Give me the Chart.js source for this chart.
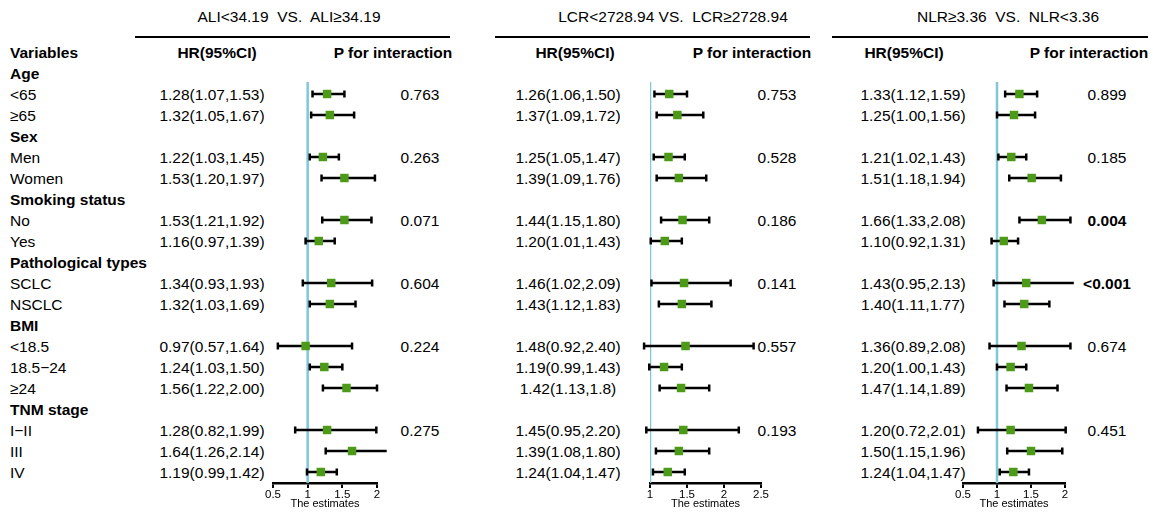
<!DOCTYPE html>
<html>
<head>
<meta charset="utf-8">
<script src="https://cdn.jsdelivr.net/npm/chart.js@4.4.1/dist/chart.umd.min.js"></script>
<style>
  body { margin: 0; background: #fff; width: 1153px; height: 513px; overflow: hidden; position: relative;
         font-family: "Liberation Sans", Arial, sans-serif; color: #000; }
  .t { position: absolute; font-size: 15.5px; white-space: pre; line-height: 1; }
  .b { font-weight: bold; }
  .rule { position: absolute; height: 2px; background: #000; }
  canvas { position: absolute; top: 0; }
</style>
</head>
<body>
<script>
// rows of the table
const variables = ['Age', '<65', '≥65', 'Sex', 'Men', 'Women', 'Smoking status', 'No', 'Yes',
  'Pathological types', 'SCLC', 'NSCLC', 'BMI', '<18.5', '18.5−24', '≥24', 'TNM stage', 'I−II', 'III', 'IV'];
const isGroup = [1, 0, 0, 1, 0, 0, 1, 0, 0, 1, 0, 0, 1, 0, 0, 0, 1, 0, 0, 0];

// ALI<34.19 vs ALI≥34.19
const aliHr = [1.28, 1.32, 1.22, 1.53, 1.53, 1.16, 1.34, 1.32, 0.97, 1.24, 1.56, 1.28, 1.64, 1.19];
const aliLo = [1.07, 1.05, 1.03, 1.20, 1.21, 0.97, 0.93, 1.03, 0.57, 1.03, 1.22, 0.82, 1.26, 0.99];
const aliHi = [1.53, 1.67, 1.45, 1.97, 1.92, 1.39, 1.93, 1.69, 1.64, 1.50, 2.00, 1.99, 2.14, 1.42];
const aliText = ['1.28(1.07,1.53)', '1.32(1.05,1.67)', '1.22(1.03,1.45)', '1.53(1.20,1.97)', '1.53(1.21,1.92)',
  '1.16(0.97,1.39)', '1.34(0.93,1.93)', '1.32(1.03,1.69)', '0.97(0.57,1.64)', '1.24(1.03,1.50)',
  '1.56(1.22,2.00)', '1.28(0.82,1.99)', '1.64(1.26,2.14)', '1.19(0.99,1.42)'];
const aliP = ['0.763', '0.263', '0.071', '0.604', '0.224', '0.275'];
const aliTicks = [0.5, 1, 1.5, 2];

// LCR<2728.94 vs LCR≥2728.94
const lcrHr = [1.26, 1.37, 1.25, 1.39, 1.44, 1.20, 1.46, 1.43, 1.48, 1.19, 1.42, 1.45, 1.39, 1.24];
const lcrLo = [1.06, 1.09, 1.05, 1.09, 1.15, 1.01, 1.02, 1.12, 0.92, 0.99, 1.13, 0.95, 1.08, 1.04];
const lcrHi = [1.50, 1.72, 1.47, 1.76, 1.80, 1.43, 2.09, 1.83, 2.40, 1.43, 1.80, 2.20, 1.80, 1.47];
const lcrText = ['1.26(1.06,1.50)', '1.37(1.09,1.72)', '1.25(1.05,1.47)', '1.39(1.09,1.76)', '1.44(1.15,1.80)',
  '1.20(1.01,1.43)', '1.46(1.02,2.09)', '1.43(1.12,1.83)', '1.48(0.92,2.40)', '1.19(0.99,1.43)',
  '1.42(1.13,1.8)', '1.45(0.95,2.20)', '1.39(1.08,1.80)', '1.24(1.04,1.47)'];
const lcrP = ['0.753', '0.528', '0.186', '0.141', '0.557', '0.193'];
const lcrTicks = [1, 1.5, 2, 2.5];

// NLR≥3.36 vs NLR<3.36
const nlrHr = [1.33, 1.25, 1.21, 1.51, 1.66, 1.10, 1.43, 1.40, 1.36, 1.20, 1.47, 1.20, 1.50, 1.24];
const nlrLo = [1.12, 1.00, 1.02, 1.18, 1.33, 0.92, 0.95, 1.11, 0.89, 1.00, 1.14, 0.72, 1.15, 1.04];
const nlrHi = [1.59, 1.56, 1.43, 1.94, 2.08, 1.31, 2.13, 1.77, 2.08, 1.43, 1.89, 2.01, 1.96, 1.47];
const nlrText = ['1.33(1.12,1.59)', '1.25(1.00,1.56)', '1.21(1.02,1.43)', '1.51(1.18,1.94)', '1.66(1.33,2.08)',
  '1.10(0.92,1.31)', '1.43(0.95,2.13)', '1.40(1.11,1.77)', '1.36(0.89,2.08)', '1.20(1.00,1.43)',
  '1.47(1.14,1.89)', '1.20(0.72,2.01)', '1.50(1.15,1.96)', '1.24(1.04,1.47)'];
const nlrP = ['0.899', '0.185', '0.004', '<0.001', '0.674', '0.451'];
const nlrPBold = [0, 0, 1, 1, 0, 0];
const nlrTicks = [0.5, 1, 1.5, 2];

const refValue = 1;

const ROW0 = 52, ROWH = 21;        // y of header row and row spacing
const AREA_TOP = 82, AXIS_Y = 483; // plot area vertical extent
const rowY = r => ROW0 + ROWH * r;
const yMin = (AREA_TOP - ROW0) / ROWH;
const yMax = (AXIS_Y - ROW0) / ROWH;

const panels = [
  { title: 'ALI<34.19  VS.  ALI≥34.19', titleX: 289, ruleL: 135, ruleR: 450, hrHeadX: 217, pHeadX: 393,
    hrX: 212, pX: 420, min: 0.5, max: 2, px0: 273, px1: 377, ticks: aliTicks,
    hr: aliHr, lo: aliLo, hi: aliHi, text: aliText, p: aliP, bold: [] },
  { title: 'LCR<2728.94 VS.  LCR≥2728.94', titleX: 673, ruleL: 495, ruleR: 810, hrHeadX: 575, pHeadX: 752,
    hrX: 568, pX: 777, min: 1, max: 2.5, px0: 650, px1: 761, ticks: lcrTicks,
    hr: lcrHr, lo: lcrLo, hi: lcrHi, text: lcrText, p: lcrP, bold: [] },
  { title: 'NLR≥3.36  VS.  NLR<3.36', titleX: 1008, ruleL: 832, ruleR: 1148, hrHeadX: 904, pHeadX: 1089,
    hrX: 913, pX: 1107, min: 0.5, max: 2, px0: 963, px1: 1065, ticks: nlrTicks,
    hr: nlrHr, lo: nlrLo, hi: nlrHi, text: nlrText, p: nlrP, bold: nlrPBold },
];

function addText(str, x, y, align, bold) {
  const el = document.createElement('div');
  el.className = 't' + (bold ? ' b' : '');
  el.textContent = str;
  el.style.left = x + 'px';
  el.style.top = (y + 1) + 'px';
  el.style.transform = align === 'center' ? 'translate(-50%,-50%)' : 'translate(0,-50%)';
  document.body.appendChild(el);
}

function addRule(l, r, y) {
  const el = document.createElement('div');
  el.className = 'rule';
  el.style.left = l + 'px';
  el.style.width = (r - l) + 'px';
  el.style.top = (y - 1) + 'px';
  document.body.appendChild(el);
}

// which table row each subgroup / p value sits on
const subRows = [];
const pRows = [];
variables.forEach((v, i) => {
  if (isGroup[i]) pRows.push(i + 2);
  else subRows.push(i + 1);
});

// left column
addText('Variables', 10, rowY(0), 'left', true);
variables.forEach((v, i) => addText(v, 10, rowY(i + 1), 'left', isGroup[i]));

const PAD = 25;

panels.forEach(pn => {
  addText(pn.title, pn.titleX, 16, 'center', false);
  addRule(pn.ruleL, pn.ruleR, 37);
  addText('HR(95%CI)', pn.hrHeadX, rowY(0), 'center', true);
  addText('P for interaction', pn.pHeadX, rowY(0), 'center', true);
  pn.text.forEach((s, k) => addText(s, pn.hrX, rowY(subRows[k]), 'center', false));
  pn.p.forEach((s, k) => addText(s, pn.pX, rowY(pRows[k]), 'center', pn.bold[k]));

  const canvas = document.createElement('canvas');
  const w = pn.px1 - pn.px0 + 2 * PAD;
  canvas.width = w;
  canvas.height = 513;
  canvas.style.left = (pn.px0 - PAD) + 'px';
  document.body.appendChild(canvas);

  const datasets = [{
    data: [{ x: refValue, y: yMin }, { x: refValue, y: yMax }],
    showLine: true, borderColor: '#80c8d6', borderWidth: 2.5, pointRadius: 0, order: 3,
  }];
  pn.hr.forEach((h, k) => {
    datasets.push({
      data: [{ x: pn.lo[k], y: subRows[k] }, { x: pn.hi[k], y: subRows[k] }],
      showLine: true, borderColor: '#000', borderWidth: 2.5,
      pointStyle: 'line', rotation: 90, pointRadius: 3.5, pointBorderWidth: 2.5,
      pointBorderColor: '#000', clip: false, order: 2,
    });
  });
  datasets.push({
    data: pn.hr.map((h, k) => ({ x: h, y: subRows[k] })),
    pointStyle: 'rect', pointRadius: 6, pointBackgroundColor: '#4c9a18',
    pointBorderColor: '#4c9a18', pointBorderWidth: 0, clip: false, order: 1,
  });

  new Chart(canvas, {
    type: 'scatter',
    data: { datasets },
    options: {
      responsive: false,
      animation: false,
      events: [],
      layout: { padding: { left: PAD, right: PAD, top: AREA_TOP, bottom: 0 } },
      plugins: { legend: { display: false }, tooltip: { enabled: false } },
      scales: {
        x: {
          type: 'linear', min: pn.min, max: pn.max,
          afterBuildTicks: s => { s.ticks = pn.ticks.map(v => ({ value: v })); },
          afterFit: s => { s.height = 513 - AXIS_Y; },
          ticks: { color: '#000', font: { family: 'Liberation Sans', size: 11.5 }, padding: 0,
                   maxRotation: 0, callback: v => String(v) },
          grid: { drawOnChartArea: false, drawTicks: true, tickLength: 5, color: '#000', lineWidth: 2 },
          border: { display: true, color: '#000', width: 2.5 },
          title: { display: true, text: 'The estimates', color: '#000',
                   font: { family: 'Liberation Sans', size: 11 }, padding: { top: 0, bottom: 2 } },
        },
        y: { type: 'linear', reverse: true, min: yMin, max: yMax, display: false },
      },
    },
  });
});
</script>
</body>
</html>
